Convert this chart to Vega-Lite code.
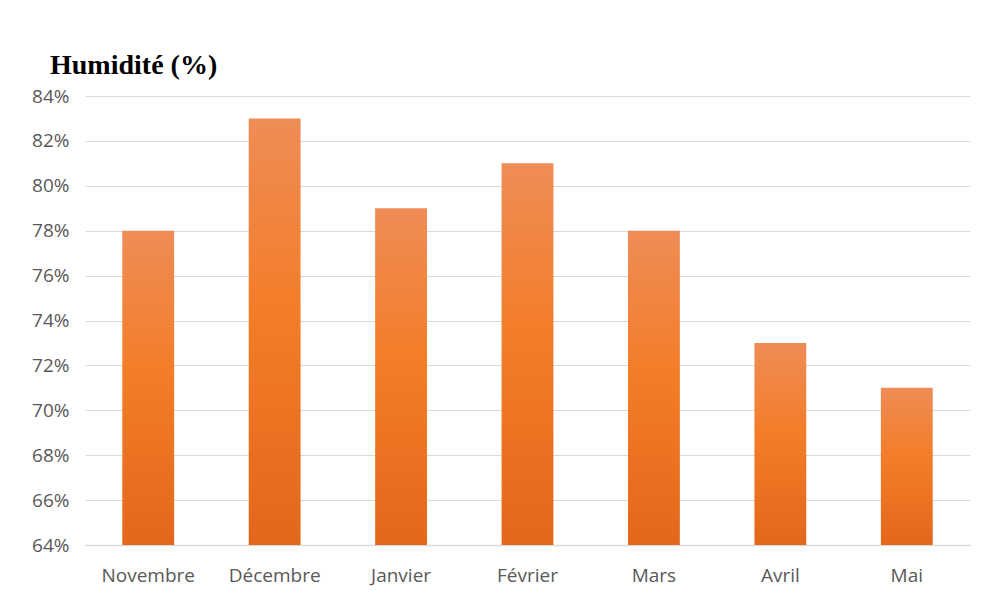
{
  "$schema": "https://vega.github.io/schema/vega-lite/v6.json",
  "width": 885,
  "height": 449,
  "autosize": "none",
  "padding": {"left": 85, "top": 96, "right": 17, "bottom": 60},
  "background": "white",
  "title": {
    "text": "Humidité (%)",
    "anchor": "start",
    "frame": "group",
    "dx": -35,
    "offset": 7,
    "font": "Liberation Serif",
    "fontSize": 28,
    "fontWeight": "bold",
    "color": "#000000"
  },
  "data": {
    "values": [
      {"mois": "Novembre", "h": 78},
      {"mois": "Décembre", "h": 83},
      {"mois": "Janvier", "h": 79},
      {"mois": "Février", "h": 81},
      {"mois": "Mars", "h": 78},
      {"mois": "Avril", "h": 73},
      {"mois": "Mai", "h": 71}
    ]
  },
  "mark": {
    "type": "bar",
    "opacity": 1,
    "fill": {
      "gradient": "linear",
      "x1": 0, "y1": 0, "x2": 0, "y2": 1,
      "stops": [
        {"offset": 0, "color": "#EF8C56"},
        {"offset": 0.45, "color": "#F37D28"},
        {"offset": 1, "color": "#E3671B"}
      ]
    }
  },
  "encoding": {
    "x": {
      "field": "mois",
      "type": "nominal",
      "sort": null,
      "scale": {"paddingInner": 0.59, "paddingOuter": 0.295},
      "axis": {
        "title": null,
        "labelAngle": 0,
        "labelFont": "Open Sans",
        "labelFontSize": 19,
        "labelColor": "#595959",
        "labelPadding": 21,
        "ticks": false,
        "domainColor": "#D9D9D9",
        "domainWidth": 1.5
      }
    },
    "y": {
      "field": "h",
      "type": "quantitative",
      "scale": {"domain": [64, 84], "zero": false, "nice": false},
      "axis": {
        "title": null,
        "values": [64, 66, 68, 70, 72, 74, 76, 78, 80, 82, 84],
        "labelExpr": "datum.value + '%'",
        "labelFont": "Open Sans",
        "labelFontSize": 19,
        "labelColor": "#595959",
        "labelPadding": 16,
        "ticks": false,
        "domain": false,
        "grid": true,
        "gridColor": "#D9D9D9",
        "gridWidth": 1.2
      }
    },
    "y2": {"datum": 64}
  },
  "config": {
    "view": {"stroke": null}
  }
}
